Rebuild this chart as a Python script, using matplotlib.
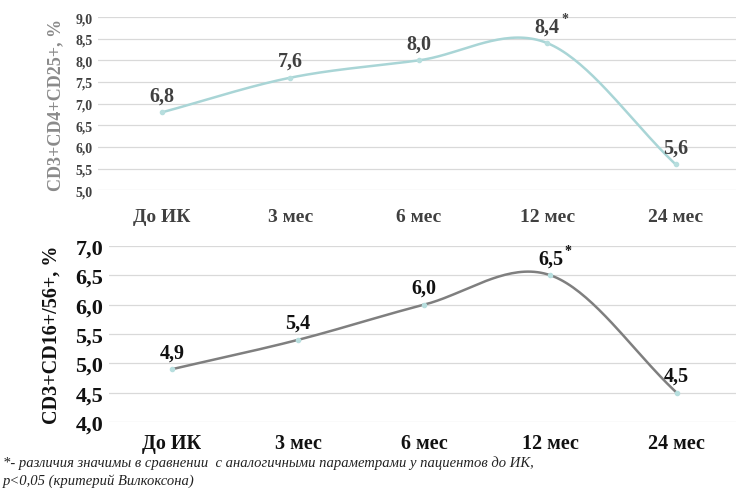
import numpy as np
import matplotlib
matplotlib.use("Agg")
import matplotlib.pyplot as plt

# data
periods = ["До ИК", "3 мес", "6 мес", "12 мес", "24 мес"]
cd25_values = [6.8, 7.6, 8.0, 8.4, 5.6]
cd16_values = [4.9, 5.4, 6.0, 6.5, 4.5]
cd25_labels = ["6,8", "7,6", "8,0", "8,4", "5,6"]
cd16_labels = ["4,9", "5,4", "6,0", "6,5", "4,5"]
star_index = 3

SERIF = "Liberation Serif"


def smooth_curve(y, steps=40):
    # catmull-rom style smoothing like the spreadsheet "smoothed line"
    y = np.asarray(y, dtype=float)
    n = len(y)
    xs, ys = [], []
    for i in range(n - 1):
        p0 = y[i]
        p1 = y[i + 1]
        m0 = (y[i + 1] - y[i - 1]) / 2 if i > 0 else (y[1] - y[0])
        m1 = (y[i + 2] - y[i]) / 2 if i + 2 < n else (y[-1] - y[-2])
        t = np.linspace(0, 1, steps)
        h00 = 2 * t**3 - 3 * t**2 + 1
        h10 = t**3 - 2 * t**2 + t
        h01 = -2 * t**3 + 3 * t**2
        h11 = t**3 - t**2
        xs.append(i + t)
        ys.append(h00 * p0 + h10 * m0 + h01 * p1 + h11 * m1)
    return np.concatenate(xs), np.concatenate(ys)


def fmt(v):
    return f"{v:.1f}".replace(".", ",")


def draw_panel(ax, values, labels, ymin, ymax, line_color, text_color,
               tick_size, label_size, xtick_size, xpad, ylabel, ylabel_color, ylabel_size):
    x = np.arange(len(values))
    sx, sy = smooth_curve(values)
    ax.plot(sx, sy, color=line_color, lw=1.8, zorder=3)
    ax.plot(x, values, "o", ms=3, color="#b7dede", zorder=4)

    ax.set_xlim(-0.5, len(values) - 0.5)
    ax.set_ylim(ymin, ymax)
    yt = np.arange(ymin, ymax + 0.01, 0.5)
    ax.set_yticks(yt)
    ax.set_yticklabels([fmt(v) for v in yt], fontfamily=SERIF, fontweight="bold",
                       fontsize=tick_size, color=text_color)
    ax.set_xticks(x)
    ax.set_xticklabels(periods, fontfamily=SERIF, fontweight="bold",
                       fontsize=xtick_size, color=text_color)
    ax.tick_params(axis="x", length=0, pad=xpad)
    ax.tick_params(axis="y", length=0, pad=4)
    ax.grid(axis="y", color="#d9d9d9", lw=0.9)
    ax.set_axisbelow(True)
    for s in ax.spines.values():
        s.set_visible(False)

    for i, (v, lab) in enumerate(zip(values, labels)):
        ax.annotate(lab, (i, v), xytext=(0, 5), textcoords="offset points",
                    ha="center", va="bottom", fontfamily=SERIF, fontweight="bold",
                    fontsize=label_size, color=text_color)
        if i == star_index:
            ax.annotate("*", (i, v), xytext=(10, 13), textcoords="offset points",
                        ha="left", va="bottom", fontfamily=SERIF, fontweight="bold",
                        fontsize=10, color=text_color)

    ax.set_ylabel(ylabel, fontfamily=SERIF, fontweight="bold", fontsize=ylabel_size,
                  color=ylabel_color)


fig = plt.figure(figsize=(7.36, 4.89), dpi=100)

ax1 = fig.add_axes([0.133, 0.609, 0.872, 0.354])
draw_panel(ax1, cd25_values, cd25_labels, 5.0, 9.0, "#a9d5d6", "#404040",
           10, 14.5, 14, 13, "CD3+CD4+CD25+, %", "#8a8a8a", 13)
ax1.yaxis.set_label_coords(-0.053, 0.5)

ax2 = fig.add_axes([0.148, 0.135, 0.857, 0.36])
draw_panel(ax2, cd16_values, cd16_labels, 4.0, 7.0, "#7f7f7f", "#111111",
           16, 14.5, 14.5, 8, "CD3+CD16+/56+, %", "#111111", 14.5)
ax2.yaxis.set_label_coords(-0.075, 0.5)

fig.text(0.004, 0.052,
         "*- различия значимы в сравнении  с аналогичными параметрами у пациентов до ИК,",
         fontfamily=SERIF, style="italic", fontsize=10.5, color="#222222", va="center")
fig.text(0.004, 0.016, "p<0,05 (критерий Вилкоксона)",
         fontfamily=SERIF, style="italic", fontsize=10.5, color="#222222", va="center")

fig.savefig("out.png", dpi=100, facecolor="white")
